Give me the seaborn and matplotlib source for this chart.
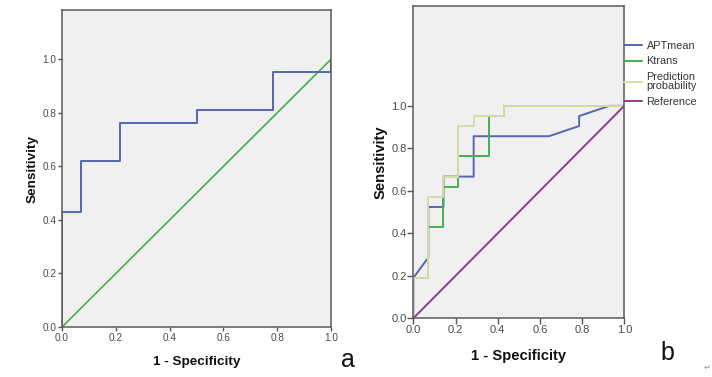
import numpy as np
import pandas as pd
import matplotlib
matplotlib.use("Agg")
import matplotlib.pyplot as plt
import seaborn as sns

sns.set_style("white")
plt.rcParams['font.family'] = ['Liberation Sans', 'DejaVu Sans']

# ---- data: panel a ----
a_fpr = [0.0, 0.0, 0.071, 0.071, 0.214, 0.214, 0.5, 0.5, 0.786, 0.786, 1.0, 1.0]
a_tpr = [0.0, 0.429, 0.429, 0.619, 0.619, 0.762, 0.762, 0.810, 0.810, 0.952, 0.952, 1.0]
ref_fpr = [0.0, 1.0]
ref_tpr = [0.0, 1.0]

# ---- data: panel b ----
apt_fpr = [0.0, 0.0, 0.071, 0.071, 0.143, 0.143, 0.286, 0.286, 0.643, 0.786, 0.786, 0.929, 1.0]
apt_tpr = [0.0, 0.190, 0.286, 0.524, 0.524, 0.667, 0.667, 0.857, 0.857, 0.905, 0.952, 1.0, 1.0]
kt_fpr = [0.0, 0.0, 0.071, 0.071, 0.143, 0.143, 0.214, 0.214, 0.357, 0.357, 0.429, 0.429, 1.0]
kt_tpr = [0.0, 0.190, 0.190, 0.429, 0.429, 0.619, 0.619, 0.762, 0.762, 0.952, 0.952, 1.0, 1.0]
pp_fpr = [0.0, 0.0, 0.071, 0.071, 0.143, 0.143, 0.214, 0.214, 0.286, 0.286, 0.429, 0.429, 1.0]
pp_tpr = [0.0, 0.190, 0.190, 0.571, 0.571, 0.667, 0.667, 0.905, 0.905, 0.952, 0.952, 1.0, 1.0]

series_b = ["APTmean", "Ktrans", "Prediction\nprobability", "Reference"]
colors_b = ["#5567b3", "#45b04f", "#d8dba6", "#8e3c8e"]
ticks = [0.0, 0.2, 0.4, 0.6, 0.8, 1.0]
tick_labels = ["0.0", "0.2", "0.4", "0.6", "0.8", "1.0"]

fig = plt.figure(figsize=(7.12, 3.77), dpi=100)
fig.patch.set_facecolor("white")

ax_a = fig.add_axes([0.0871, 0.1326, 0.3778, 0.8409])
ax_b = fig.add_axes([0.5805, 0.1557, 0.2963, 0.8284])

def style(ax, ymax, tfs, lfs, tlen):
    ax.set_facecolor("#f0f0f0")
    ax.set_xlim(0, 1)
    ax.set_ylim(0, ymax)
    ax.set_xticks(ticks)
    ax.set_xticklabels(tick_labels)
    ax.set_yticks(ticks)
    ax.set_yticklabels(tick_labels)
    ax.tick_params(axis="both", direction="out", length=tlen, width=1,
                   color="#555555", labelcolor="#4a4a4a", labelsize=tfs,
                   pad=0.8, bottom=True, left=True)
    for s in ax.spines.values():
        s.set_color("#5a5a5a")
        s.set_linewidth(1.1)
    ax.set_xlabel("1 - Specificity", fontsize=lfs, fontweight="bold", color="#111111", labelpad=10)
    ax.set_ylabel("Sensitivity", fontsize=lfs, fontweight="bold", color="#111111", labelpad=3)

# panel a
dfa = pd.DataFrame({"x": a_fpr, "y": a_tpr})
dfr = pd.DataFrame({"x": ref_fpr, "y": ref_tpr})
sns.lineplot(data=dfr, x="x", y="y", ax=ax_a, sort=False, estimator=None, color="#41b04b", lw=1.2)
sns.lineplot(data=dfa, x="x", y="y", ax=ax_a, sort=False, estimator=None, color="#5567b3", lw=1.4)
style(ax_a, 1.184, 7.2, 9.7, 3.2)

# panel b
frames = []
for name, xs, ys in [(series_b[0], apt_fpr, apt_tpr), (series_b[1], kt_fpr, kt_tpr),
                     (series_b[2], pp_fpr, pp_tpr), (series_b[3], ref_fpr, ref_tpr)]:
    frames.append(pd.DataFrame({"x": xs, "y": ys, "series": name, "order": np.arange(len(xs))}))
dfb = pd.concat(frames, ignore_index=True)
sns.lineplot(data=dfb, x="x", y="y", hue="series", hue_order=series_b,
             palette=colors_b, ax=ax_b, sort=False, estimator=None, lw=1.4)
style(ax_b, 1.47, 8.0, 10.6, 4.0)
leg = ax_b.legend(loc="upper left", bbox_to_anchor=(1.0, 0.888), frameon=False,
                  fontsize=7.8, handlelength=1.6, handletextpad=0.45,
                  labelspacing=0.5, borderaxespad=0, borderpad=0)
for t in leg.get_texts():
    t.set_color("#333333")
    t.set_linespacing(0.95)

fig.text(348 / 712, 1 - 360 / 377, "a", fontsize=18, ha="center", va="center", color="#111111")
fig.text(667 / 712, 1 - 353 / 377, "b", fontsize=18, ha="center", va="center", color="#111111")
fig.text(707 / 712, 1 - 367 / 377, "\u21b5", fontsize=6, ha="center", va="center", color="#999999",
         family=["DejaVu Sans"])

fig.savefig("out.png", dpi=100, facecolor="white")
